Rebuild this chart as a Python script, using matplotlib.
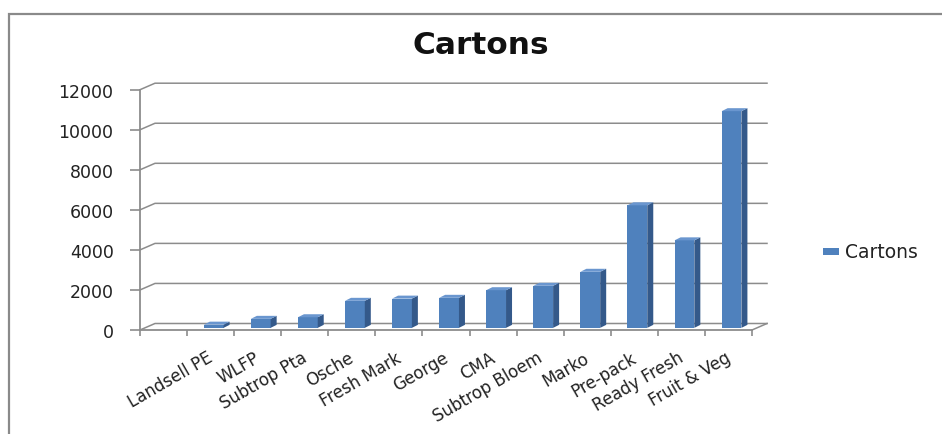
import matplotlib.pyplot as plt
import numpy as np
from matplotlib.patches import Polygon, Rectangle

categories = ["Landsell PE", "WLFP", "Subtrop Pta", "Osche", "Fresh Mark", "George",
              "CMA", "Subtrop Bloem", "Marko", "Pre-pack", "Ready Fresh", "Fruit & Veg"]
cartons = [160, 450, 530, 1350, 1460, 1500, 1880, 2100, 2800, 6120, 4370, 10820]
y_ticks = [0, 2000, 4000, 6000, 8000, 10000, 12000]

W, H = 942, 435
FRONT = "#4F81BD"
SIDE = "#34598A"
TOP = "#6A96CF"
GRID = "#8C8C8C"

plt.rcParams["font.family"] = ["DejaVu Sans"]

fig = plt.figure(figsize=(W / 100, H / 100), dpi=100)
x_left, x_right, y_zero, y_top = 140, 752, 331, 90.7
ax = fig.add_axes([x_left / W, (H - y_zero) / H, (x_right - x_left) / W, (y_zero - y_top) / H])

n_slots = len(categories) + 1
ax.set_xlim(-0.5, n_slots - 0.5)
ax.set_ylim(0, 12000)

px_x = (x_right - x_left) / n_slots          # pixels per category slot
px_y = (y_zero - y_top) / 12000              # pixels per unit
DX, DY = 15 / px_x, 6.5 / px_y               # depth of the 3d box

# back wall gridlines with the little diagonal stubs
x0, x1 = -0.5, n_slots - 0.5
for v in y_ticks:
    ax.plot([x0, x0 + DX, x1 + DX], [v, v + DY, v + DY], color=GRID, lw=1.1,
            clip_on=False, zorder=1)
ax.plot([x1, x1 + DX], [0, DY], color=GRID, lw=1.1, clip_on=False, zorder=1)

# 3d bars
w = 0.42
d1 = 0.33
bdx, bdy = 6 / px_x, 3 / px_y
for i, val in enumerate(cartons, start=1):
    xa = i + d1 * DX - w / 2 - 0.04
    xb = xa + w
    base = d1 * DY
    top = val + base
    ax.add_patch(Rectangle((xa, base), w, val, facecolor=FRONT, edgecolor="none", zorder=3))
    ax.add_patch(Polygon([(xb, base), (xb, top), (xb + bdx, top + bdy), (xb + bdx, base + bdy)],
                         closed=True, facecolor=SIDE, edgecolor="none", zorder=3))
    ax.add_patch(Polygon([(xa, top), (xb, top), (xb + bdx, top + bdy), (xa + bdx, top + bdy)],
                         closed=True, facecolor=TOP, edgecolor="none", zorder=3))

for s in ["top", "right"]:
    ax.spines[s].set_visible(False)
for s in ["left", "bottom"]:
    ax.spines[s].set_color(GRID)
    ax.spines[s].set_linewidth(1.3)
    ax.spines[s].set_zorder(4)

ax.set_yticks(y_ticks)
ax.set_yticklabels([str(t) for t in y_ticks], fontsize=12.5, color="#222222")
ax.tick_params(axis="y", direction="out", length=7, width=1.2, color=GRID, pad=12)
ax.set_xticks(np.arange(-0.5, n_slots, 1.0))
ax.set_xticklabels([])
ax.tick_params(axis="x", direction="out", length=4, width=1.2, color=GRID)

for i, name in enumerate(categories, start=1):
    ax.text(i + 0.02, -0.108, name, transform=ax.get_xaxis_transform(), rotation=30,
            rotation_mode="anchor", ha="right", va="center", fontsize=12, color="#222222")

fig.text(481 / W, 1 - 46 / H, "Cartons", ha="center", va="center", fontsize=22.5,
         fontweight="bold", color="#111111")

# legend
fig.patches.append(Rectangle((823 / W, 1 - 256 / H), 16 / W, 7 / H, transform=fig.transFigure,
                             facecolor=FRONT, edgecolor="none"))
fig.text(845 / W, 1 - 252 / H, "Cartons", ha="left", va="center", fontsize=13.5, color="#222222")

# chart border
fig.patches.append(Rectangle((9 / W, -0.2), 1.2, (H - 15) / H + 0.2, transform=fig.transFigure,
                             facecolor="none", edgecolor="#8A8A8A", lw=1.6))

fig.savefig("out.png", dpi=100)
